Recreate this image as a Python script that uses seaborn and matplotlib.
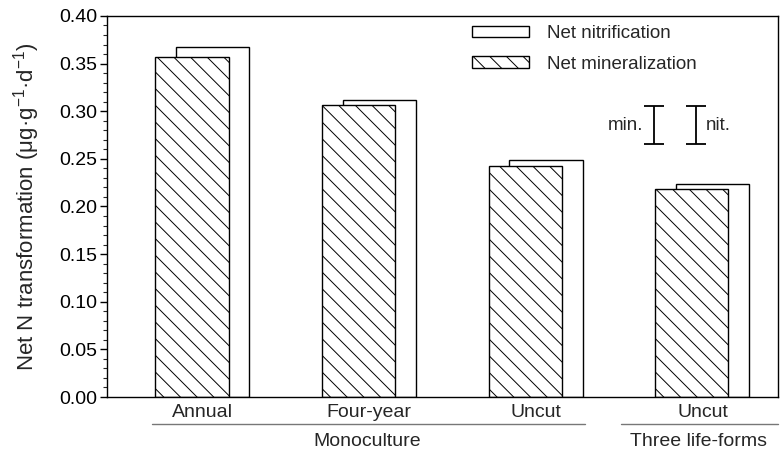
import numpy as np
import pandas as pd
import matplotlib
matplotlib.use('Agg')
import matplotlib.pyplot as plt
import seaborn as sns
from matplotlib.ticker import MultipleLocator, FormatStrFormatter
from matplotlib.lines import Line2D
import matplotlib.transforms as mtransforms

# values
treatments = ['Annual', 'Four-year', 'Uncut', 'Uncut']
mineralization = [0.357, 0.306, 0.243, 0.218]
nitrification = [0.367, 0.312, 0.249, 0.224]
groups = ['Monoculture', 'Three life-forms']
err_min = 0.0195
err_nit = 0.0195

sns.set_style('ticks')
plt.rcParams['font.family'] = ['Liberation Sans', 'DejaVu Sans']
plt.rcParams['mathtext.default'] = 'regular'
plt.rcParams['hatch.linewidth'] = 0.7

pos = np.arange(len(treatments))
df_nit = pd.DataFrame({'pos': pos + 0.06, 'val': nitrification})
df_min = pd.DataFrame({'pos': pos - 0.065, 'val': mineralization})

fig = plt.figure(figsize=(7.8, 4.51), dpi=100)
ax = fig.add_axes([0.137, 0.1197, 0.86, 0.845])

sns.barplot(data=df_nit, x='pos', y='val', native_scale=True, width=0.44,
            color='white', edgecolor='black', linewidth=1.0, errorbar=None,
            ax=ax, label='Net nitrification')
sns.barplot(data=df_min, x='pos', y='val', native_scale=True, width=0.44,
            color='white', edgecolor='black', linewidth=1.0, errorbar=None,
            hatch='\\\\', ax=ax, label='Net mineralization')
for p in ax.patches:
    p.set_facecolor('white')
    p.set_edgecolor('black')

ax.set_xlim(-0.575, 3.45)
ax.set_ylim(0, 0.40)
ax.yaxis.set_major_locator(MultipleLocator(0.05))
ax.yaxis.set_minor_locator(MultipleLocator(0.01))
ax.yaxis.set_major_formatter(FormatStrFormatter('%.2f'))
ax.tick_params(axis='y', which='major', direction='out', length=5, width=1,
               labelsize=14, colors='black', pad=2)
ax.tick_params(axis='y', which='minor', direction='out', length=3, width=0.8)
ax.tick_params(axis='x', length=0, labelsize=14, pad=5)
ax.set_xticks(pos)
ax.set_xticklabels(treatments)
ax.set_xlabel('')
ax.set_ylabel(r'Net N transformation (μg·g$^{-1}$·d$^{-1}$)', fontsize=16, labelpad=12)
for s in ax.spines.values():
    s.set_visible(True)
    s.set_color('black')
    s.set_linewidth(1.0)

# error bar keys
ax.errorbar([2.707], [0.2855], yerr=err_min, fmt='none', ecolor='black',
            elinewidth=1.3, capsize=7, capthick=1.3)
ax.errorbar([2.958], [0.2855], yerr=err_nit, fmt='none', ecolor='black',
            elinewidth=1.3, capsize=7, capthick=1.3)
ax.text(2.645, 0.2855, 'min.', ha='right', va='center', fontsize=13.5)
ax.text(3.02, 0.2855, 'nit.', ha='left', va='center', fontsize=13.5)

# legend
handles, labels = ax.get_legend_handles_labels()
leg = ax.legend(handles, labels, loc='upper left', bbox_to_anchor=(0.545, 0.975),
                frameon=False, fontsize=13.5, handlelength=3.0, handleheight=0.55,
                handletextpad=0.95, labelspacing=0.7, borderpad=0, borderaxespad=0)

# group labels below the axis
trans = mtransforms.blended_transform_factory(ax.transData, ax.transAxes)
ax.add_line(Line2D([-0.305, 2.293], [-0.071, -0.071], transform=trans,
                   color='#777777', linewidth=1.0, clip_on=False))
ax.add_line(Line2D([2.509, 3.45], [-0.071, -0.071], transform=trans,
                   color='#777777', linewidth=1.0, clip_on=False))
ax.text(0.99, -0.118, groups[0], transform=trans, ha='center', va='center', fontsize=14)
ax.text(2.976, -0.118, groups[1], transform=trans, ha='center', va='center', fontsize=14)

fig.savefig('out.png', dpi=100)
